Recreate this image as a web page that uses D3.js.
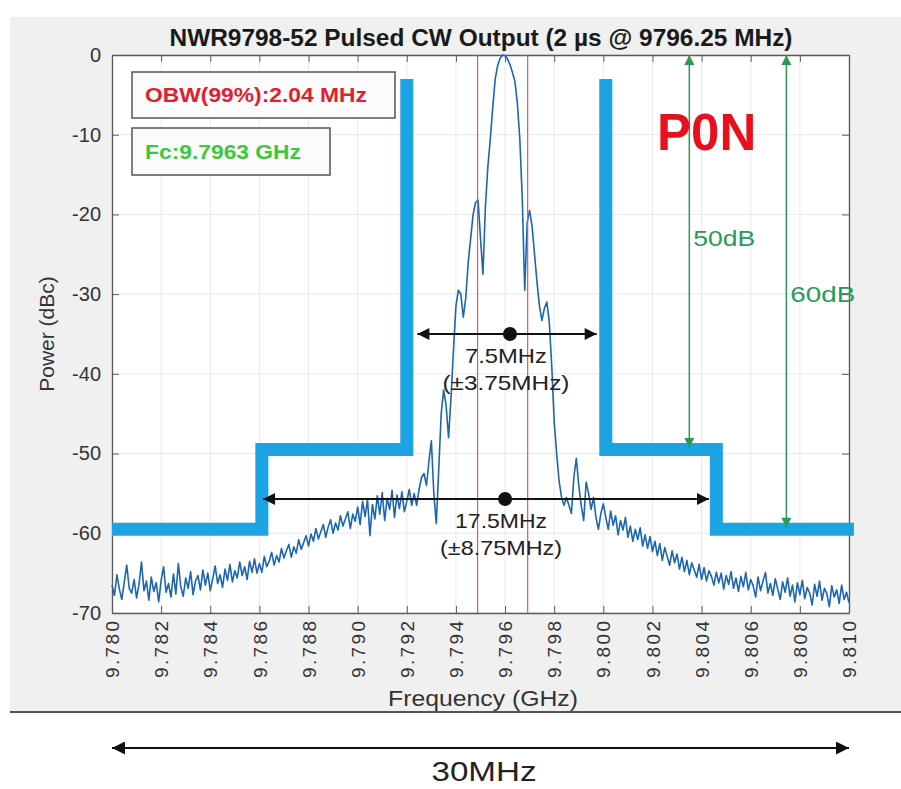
<!DOCTYPE html>
<html><head><meta charset="utf-8">
<script src="https://cdn.jsdelivr.net/npm/d3@7/dist/d3.min.js"></script>
<style>body{margin:0;background:#fff;} svg{display:block;font-family:"Liberation Sans",Arial,sans-serif;}</style>
</head><body><svg id="c" width="901" height="789"></svg>
<script>
// ---------------- data ----------------
const chartTitle = "NWR9798-52 Pulsed CW Output (2 µs @ 9796.25 MHz)";
const xTickValues = [9.780, 9.782, 9.784, 9.786, 9.788, 9.790, 9.792, 9.794, 9.796, 9.798, 9.800, 9.802, 9.804, 9.806, 9.808, 9.810];
const xTickLabels = ["9.780","9.782","9.784","9.786","9.788","9.790","9.792","9.794","9.796","9.798","9.800","9.802","9.804","9.806","9.808","9.810"];
const yTickValues = [0, -10, -20, -30, -40, -50, -60, -70];
const yTickLabels = ["0","-10","-20","-30","-40","-50","-60","-70"];
const xLabel = "Frequency (GHz)";
const yLabel = "Power (dBc)";

// measured trace: sweep start / step (GHz) and level per point (dBc)
const sweepStartGHz = 9.780;
const sweepStepGHz = 0.0001;
const spectrumDb = [
-66.5,-67.8,-65.2,-67.0,-68.3,-66.1,-64.0,-66.9,-67.5,-65.8,
-68.1,-66.4,-63.6,-67.2,-66.0,-68.4,-65.5,-67.3,-66.2,-68.6,
-65.9,-64.2,-67.4,-66.3,-68.0,-65.1,-67.6,-63.8,-66.7,-67.9,
-65.6,-66.9,-64.8,-67.7,-66.0,-65.3,-67.1,-64.6,-66.5,-65.0,
-67.2,-65.7,-64.1,-66.3,-65.2,-66.8,-64.5,-65.9,-63.9,-66.1,
-64.7,-65.6,-63.6,-65.3,-64.2,-65.8,-63.5,-64.9,-63.2,-65.0,
-63.8,-64.9,-62.9,-64.2,-63.5,-62.4,-64.0,-62.8,-63.6,-61.9,
-63.1,-62.2,-61.4,-63.0,-61.7,-62.5,-60.8,-62.0,-61.2,-60.3,
-61.6,-60.1,-61.0,-59.4,-60.7,-59.8,-58.9,-60.5,-59.2,-58.3,
-60.0,-58.7,-59.6,-57.8,-59.1,-58.2,-57.3,-59.4,-57.6,-58.5,
-56.7,-58.9,-56.0,-57.9,-55.8,-60.3,-56.4,-58.2,-55.3,-57.6,
-54.9,-58.4,-55.6,-57.0,-54.6,-58.0,-55.2,-56.9,-54.8,-57.3,
-56.0,-54.5,-56.5,-55.0,-56.5,-54.5,-53.0,-52.5,-54.0,-51.0,
-48.4,-55.0,-58.8,-52.0,-45.0,-42.0,-44.0,-48.0,-43.0,-37.0,
-31.5,-29.5,-30.0,-32.9,-30.5,-26.0,-23.0,-20.0,-18.5,-18.2,
-23.0,-27.5,-19.0,-14.0,-10.5,-6.5,-3.0,-1.3,-0.4,0.0,
-0.1,-0.5,-1.2,-2.2,-3.3,-6.0,-10.5,-18.0,-29.5,-21.0,
-19.5,-21.5,-25.0,-28.5,-31.5,-33.3,-31.8,-31.0,-33.5,-39.0,
-46.0,-50.0,-53.5,-55.5,-56.5,-55.5,-56.5,-57.5,-53.0,-50.6,
-54.0,-56.5,-58.4,-53.6,-55.0,-57.0,-55.5,-58.0,-59.5,-57.5,
-56.3,-58.0,-59.5,-57.2,-59.0,-57.8,-60.2,-58.4,-59.6,-58.0,
-60.5,-59.1,-61.0,-59.5,-60.8,-59.3,-61.6,-60.2,-61.9,-60.4,
-62.3,-61.0,-62.8,-61.3,-63.4,-61.8,-62.9,-64.0,-62.2,-63.7,
-62.6,-64.5,-63.0,-64.8,-63.4,-65.2,-63.7,-64.6,-65.5,-63.9,
-65.8,-64.3,-66.0,-64.7,-65.4,-66.5,-64.9,-66.2,-65.0,-67.0,
-65.3,-66.4,-64.8,-66.9,-65.6,-67.3,-65.4,-66.7,-64.9,-67.1,
-65.8,-66.6,-68.0,-65.5,-67.2,-66.0,-64.9,-67.5,-66.3,-67.8,
-65.7,-67.0,-68.3,-66.1,-67.4,-65.6,-67.9,-66.5,-68.6,-66.2,
-67.7,-65.9,-68.2,-66.8,-67.5,-69.0,-66.4,-67.9,-66.0,-68.4,
-66.9,-67.6,-69.2,-66.6,-68.0,-67.1,-68.8,-66.5,-68.3,-67.4,
-68.7
];

// spectral mask (thick light-blue limit line)
const maskLeftFreq  = [9.7800, 9.7861, 9.7861, 9.7920, 9.7920];
const maskLeftDb    = [-59.5, -59.5, -49.5, -49.5, -3.0];
const maskRightFreq = [9.8001, 9.8001, 9.8046, 9.8046, 9.8102];
const maskRightDb   = [-3.0, -49.5, -49.5, -59.5, -59.5];

// occupied-bandwidth markers (red verticals)
const obwLineFreq = [9.79488, 9.79692];

// black span arrows
const spanArrowFrom  = [9.79243, 9.78615];
const spanArrowTo    = [9.79973, 9.80430];
const spanArrowDb    = [-35.0, -55.7];
const spanDotFreq    = [9.79620, 9.79600];
const spanLabel1     = ["7.5MHz", "17.5MHz"];
const spanLabel2     = ["(±3.75MHz)", "(±8.75MHz)"];

// green level arrows
const levelArrowFreq   = [9.80350, 9.80745];
const levelArrowTopDb  = [0, 0];
const levelArrowBotDb  = [-49.3, -59.3];
const levelArrowLabels = ["50dB", "60dB"];
const levelLabelDb     = [-24.0, -31.0];

const legendTexts = ["OBW(99%):2.04 MHz", "Fc:9.7963 GHz"];
const ponText = "P0N";
const spanTotalLabel = "30MHz";

// ---------------- drawing ----------------
const svg = d3.select("#c");
const L = 112, R = 849, T = 55, B = 613;
const x = d3.scaleLinear().domain([9.780, 9.810]).range([L, R]);
const y = d3.scaleLinear().domain([-70, 0]).range([B, T]);

const defs = svg.append("defs");
function marker(id, color, w, h) {
  defs.append("marker").attr("id", id).attr("viewBox", "0 0 10 10")
    .attr("refX", 10).attr("refY", 5).attr("markerWidth", w).attr("markerHeight", h)
    .attr("markerUnits", "userSpaceOnUse").attr("orient", "auto-start-reverse")
    .append("path").attr("d", "M0,0L10,5L0,10Z").attr("fill", color);
}
marker("ahK", "#111", 15, 12);
marker("ahG", "#2a9a5a", 12, 10);
marker("ahB", "#111", 16, 13);

// figure background
svg.append("rect").attr("x", 10).attr("y", 17).attr("width", 891).attr("height", 695).attr("fill", "#f0f0f0");
svg.append("line").attr("x1", 10).attr("x2", 901).attr("y1", 712).attr("y2", 712).attr("stroke", "#555").attr("stroke-width", 2);

// plot area
svg.append("rect").attr("x", L).attr("y", T).attr("width", R - L).attr("height", B - T).attr("fill", "#fff");

// grid
const g = svg.append("g");
g.selectAll(".gx").data(xTickValues).join("line")
  .attr("x1", d => x(d)).attr("x2", d => x(d)).attr("y1", T).attr("y2", B)
  .attr("stroke", "#e9e9e9").attr("stroke-width", 1);
g.selectAll(".gy").data(yTickValues).join("line")
  .attr("y1", d => y(d)).attr("y2", d => y(d)).attr("x1", L).attr("x2", R)
  .attr("stroke", "#e9e9e9").attr("stroke-width", 1);

// axes via d3-axis (inward ticks on all four sides)
const axBottom = svg.append("g").attr("transform", `translate(0,${B})`)
  .call(d3.axisBottom(x).tickValues(xTickValues).tickSizeInner(-7).tickSizeOuter(0).tickFormat((d, i) => xTickLabels[i]));
const axTop = svg.append("g").attr("transform", `translate(0,${T})`)
  .call(d3.axisTop(x).tickValues(xTickValues).tickSizeInner(-7).tickSizeOuter(0).tickFormat(""));
const axLeft = svg.append("g").attr("transform", `translate(${L},0)`)
  .call(d3.axisLeft(y).tickValues(yTickValues).tickSizeInner(-7).tickSizeOuter(0).tickFormat((d, i) => yTickLabels[i]));
const axRight = svg.append("g").attr("transform", `translate(${R},0)`)
  .call(d3.axisRight(y).tickValues(yTickValues).tickSizeInner(-7).tickSizeOuter(0).tickFormat(""));
[axBottom, axTop, axLeft, axRight].forEach(a => {
  a.select(".domain").attr("stroke", "#5a5a5a").attr("stroke-width", 1.3);
  a.selectAll(".tick line").attr("stroke", "#5a5a5a");
});
axLeft.selectAll(".tick text").attr("font-size", 20).attr("fill", "#333")
  .attr("x", -11).attr("font-family", "Liberation Sans, Arial, sans-serif");
axBottom.selectAll(".tick text")
  .attr("font-size", 19).attr("fill", "#333").attr("font-family", "Liberation Sans, Arial, sans-serif")
  .attr("text-anchor", "end").attr("y", 0).attr("dy", "0.35em")
  .attr("transform", "translate(0,8) rotate(-90)")
  .attr("textLength", 57).attr("lengthAdjust", "spacing");

// axis labels
svg.append("text").attr("x", 483).attr("y", 706).attr("text-anchor", "middle")
  .attr("font-size", 22).attr("fill", "#333")
  .attr("textLength", 190).attr("lengthAdjust", "spacingAndGlyphs").text(xLabel);
svg.append("text").attr("transform", "translate(54,334) rotate(-90)").attr("text-anchor", "middle")
  .attr("font-size", 21).attr("fill", "#333").text(yLabel);

// title
svg.append("text").attr("x", 481).attr("y", 46).attr("text-anchor", "middle")
  .attr("font-size", 23).attr("font-weight", "bold").attr("fill", "#1a1a1a")
  .attr("textLength", 623).attr("lengthAdjust", "spacingAndGlyphs").text(chartTitle);

// spectrum trace
const lineGen = d3.line().x((d, i) => x(sweepStartGHz + i * sweepStepGHz)).y(d => y(d));
svg.append("path").datum(spectrumDb).attr("d", lineGen)
  .attr("fill", "none").attr("stroke", "#1c66b0").attr("stroke-width", 1.6).attr("stroke-linejoin", "round");

// red OBW lines
svg.selectAll(".obw").data(obwLineFreq).join("line")
  .attr("x1", d => x(d)).attr("x2", d => x(d)).attr("y1", y(0)).attr("y2", y(-70))
  .attr("stroke", "#e05560").attr("stroke-width", 1.2);

// mask
const maskLine = d3.line().x(d => x(d[0])).y(d => y(d[1]));
[[maskLeftFreq, maskLeftDb], [maskRightFreq, maskRightDb]].forEach(([fs, ds]) => {
  svg.append("path").datum(fs.map((f, i) => [f, ds[i]])).attr("d", maskLine)
    .attr("fill", "none").attr("stroke", "#1ba3e3").attr("stroke-width", 13)
    .attr("stroke-linejoin", "miter").attr("stroke-linecap", "butt");
});

// span arrows
const spanW1 = [82, 92], spanW2 = [127, 122];
spanArrowFrom.forEach((f0, i) => {
  svg.append("line").attr("x1", x(f0)).attr("x2", x(spanArrowTo[i]))
    .attr("y1", y(spanArrowDb[i])).attr("y2", y(spanArrowDb[i]))
    .attr("stroke", "#111").attr("stroke-width", 2)
    .attr("marker-start", "url(#ahK)").attr("marker-end", "url(#ahK)");
  svg.append("circle").attr("cx", x(spanDotFreq[i])).attr("cy", y(spanArrowDb[i])).attr("r", 7).attr("fill", "#111");
  const cx = x(spanDotFreq[i]) - 4;
  svg.append("text").attr("x", cx).attr("y", y(spanArrowDb[i]) + 29).attr("text-anchor", "middle")
    .attr("font-size", 21).attr("fill", "#222")
    .attr("textLength", spanW1[i]).attr("lengthAdjust", "spacingAndGlyphs").text(spanLabel1[i]);
  svg.append("text").attr("x", cx).attr("y", y(spanArrowDb[i]) + 56).attr("text-anchor", "middle")
    .attr("font-size", 21).attr("fill", "#222")
    .attr("textLength", spanW2[i]).attr("lengthAdjust", "spacingAndGlyphs").text(spanLabel2[i]);
});

// green level arrows
const levelW = [62, 65];
levelArrowFreq.forEach((f, i) => {
  svg.append("line").attr("x1", x(f)).attr("x2", x(f))
    .attr("y1", y(levelArrowTopDb[i])).attr("y2", y(levelArrowBotDb[i]))
    .attr("stroke", "#2a9a5a").attr("stroke-width", 1.5)
    .attr("marker-start", "url(#ahG)").attr("marker-end", "url(#ahG)");
  svg.append("text").attr("x", x(f) + 4).attr("y", y(levelLabelDb[i]))
    .attr("font-size", 22).attr("fill", "#2a9a5a")
    .attr("textLength", levelW[i]).attr("lengthAdjust", "spacingAndGlyphs").text(levelArrowLabels[i]);
});

// legend boxes
const legendBoxes = [[132, 72, 263, 46, "#e02030", 222], [132, 128, 198, 47, "#3cc83c", 156]];
legendBoxes.forEach(([bx, by, bw, bh, col, tw], i) => {
  svg.append("rect").attr("x", bx).attr("y", by).attr("width", bw).attr("height", bh)
    .attr("fill", "#fbfbfb").attr("stroke", "#555").attr("stroke-width", 1.5);
  svg.append("text").attr("x", bx + 13).attr("y", by + bh / 2 + 7)
    .attr("font-size", 20).attr("font-weight", "bold").attr("fill", col)
    .attr("textLength", tw).attr("lengthAdjust", "spacingAndGlyphs").text(legendTexts[i]);
});

// P0N
svg.append("text").attr("x", 657).attr("y", 150).attr("font-size", 51).attr("font-weight", "bold")
  .attr("fill", "#e8101c").text(ponText);

// bottom 30 MHz span arrow
svg.append("line").attr("x1", x(9.780)).attr("x2", x(9.810)).attr("y1", 748).attr("y2", 748)
  .attr("stroke", "#111").attr("stroke-width", 2.2)
  .attr("marker-start", "url(#ahB)").attr("marker-end", "url(#ahB)");
svg.append("text").attr("x", 484).attr("y", 781).attr("text-anchor", "middle")
  .attr("font-size", 27).attr("fill", "#222")
  .attr("textLength", 105).attr("lengthAdjust", "spacingAndGlyphs").text(spanTotalLabel);
</script></body></html>
